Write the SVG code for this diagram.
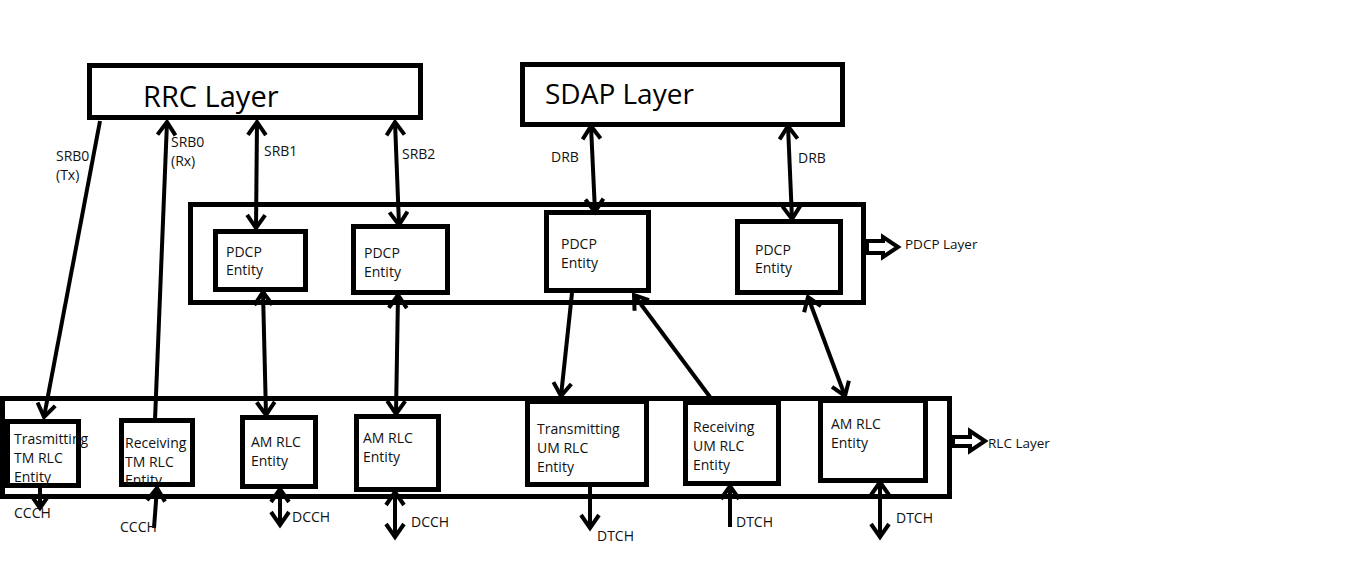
<svg xmlns="http://www.w3.org/2000/svg" width="1346" height="582" viewBox="0 0 1346 582">
<style>
.box{fill:none;stroke:#000;stroke-width:5}
.ent{fill:#fff;stroke:#000;stroke-width:5}
.t{font-family:"Open Sans","Noto Sans",sans-serif;font-size:14px;fill:#111}
.lb{font-family:"Open Sans","Noto Sans",sans-serif;font-size:13.5px;fill:#111}
.big{font-family:"Open Sans","Noto Sans",sans-serif;font-size:29px;fill:#000}
.c{fill:none;stroke:#000;stroke-width:4}
.blk{fill:#fff;stroke:#000;stroke-width:4;stroke-linejoin:miter}
</style>
<defs>
<marker id="a" markerUnits="userSpaceOnUse" orient="auto-start-reverse" viewBox="-18 -14 22 28" markerWidth="22" markerHeight="28" refX="0" refY="0">
<path d="M-13,-9 L0,0 L-13,9" fill="none" stroke="#000" stroke-width="4"/>
</marker>
<clipPath id="rxclip"><rect x="119" y="418" width="76" height="67"/></clipPath>
</defs>
<rect width="1346" height="582" fill="#fff"/>

<g id="rrc">
<rect class="box" x="89.5" y="65.5" width="331" height="52"/>
<text class="big" x="143" y="107">RRC Layer</text>
</g>
<g id="sdap">
<rect class="box" x="522.5" y="64.5" width="320" height="60"/>
<text class="big" x="545" y="104" style="font-size:28px">SDAP Layer</text>
</g>

<g id="pdcp-layer">
<rect class="box" x="190.5" y="204.5" width="673" height="98"/>
<polygon class="blk" points="867,241 883,241 883,237 898,247 883,257 883,253 867,253"/>
<text class="lb" x="905" y="249">PDCP Layer</text>
</g>
<g id="pdcp1">
<rect class="ent" x="215.5" y="231.5" width="90" height="58"/>
<text class="t" x="226" y="257">PDCP</text><text class="t" x="226" y="275">Entity</text>
</g>
<g id="pdcp2">
<rect class="ent" x="353.5" y="226.5" width="94" height="66"/>
<text class="t" x="364" y="258">PDCP</text><text class="t" x="364" y="277">Entity</text>
</g>
<g id="pdcp3">
<rect class="ent" x="546.5" y="212.5" width="102" height="78"/>
<text class="t" x="561" y="249">PDCP</text><text class="t" x="561" y="268">Entity</text>
</g>
<g id="pdcp4">
<rect class="ent" x="737.5" y="221.5" width="103" height="71"/>
<text class="t" x="755" y="255">PDCP</text><text class="t" x="755" y="273">Entity</text>
</g>

<g id="rlc-layer">
<rect class="box" x="2.5" y="398.5" width="947" height="98"/>
<polygon class="blk" points="953,437 970,437 970,431 985,441 970,451 970,446 953,446"/>
<text class="lb" x="988" y="448">RLC Layer</text>
</g>
<g id="tx-tm">
<rect class="ent" x="7.5" y="421.5" width="71" height="64"/>
<text class="t" x="14" y="444">Trasmitting</text><text class="t" x="14" y="463">TM RLC</text><text class="t" x="14" y="482">Entity</text>
</g>
<g id="rx-tm">
<rect class="ent" x="121.5" y="420.5" width="71" height="64"/>
<g clip-path="url(#rxclip)"><text class="t" x="125" y="448">Receiving</text><text class="t" x="125" y="467">TM RLC</text><text class="t" x="125" y="485">Entity</text></g>
</g>
<g id="am1">
<rect class="ent" x="242.5" y="417.5" width="73" height="69"/>
<text class="t" x="251" y="447">AM RLC</text><text class="t" x="251" y="466">Entity</text>
</g>
<g id="am2">
<rect class="ent" x="356.5" y="416.5" width="82" height="73"/>
<text class="t" x="363" y="443">AM RLC</text><text class="t" x="363" y="462">Entity</text>
</g>
<g id="tx-um">
<rect class="ent" x="527.5" y="401.5" width="119" height="83"/>
<text class="t" x="537" y="434">Transmitting</text><text class="t" x="537" y="453">UM RLC</text><text class="t" x="537" y="472">Entity</text>
</g>
<g id="rx-um">
<rect class="ent" x="685.5" y="402.5" width="93" height="81"/>
<text class="t" x="693" y="432">Receiving</text><text class="t" x="693" y="451">UM RLC</text><text class="t" x="693" y="470">Entity</text>
</g>
<g id="am3">
<rect class="ent" x="820.5" y="400.5" width="105" height="80"/>
<text class="t" x="831" y="429">AM RLC</text><text class="t" x="831" y="448">Entity</text>
</g>

<g id="connectors">
<line class="c" x1="100" y1="121" x2="44" y2="417" marker-end="url(#a)"/>
<line class="c" x1="155" y1="420" x2="167" y2="122" marker-end="url(#a)"/>
<line class="c" x1="257" y1="122" x2="256" y2="228" marker-start="url(#a)" marker-end="url(#a)"/>
<line class="c" x1="395" y1="122" x2="399" y2="225" marker-start="url(#a)" marker-end="url(#a)"/>
<line class="c" x1="591" y1="126" x2="595" y2="212" marker-start="url(#a)" marker-end="url(#a)"/>
<line class="c" x1="788" y1="126" x2="792" y2="219" marker-start="url(#a)" marker-end="url(#a)"/>
<line class="c" x1="263" y1="292" x2="266" y2="415" marker-start="url(#a)" marker-end="url(#a)"/>
<line class="c" x1="398" y1="295" x2="396" y2="414" marker-start="url(#a)" marker-end="url(#a)"/>
<line class="c" x1="572" y1="293" x2="561" y2="396" marker-end="url(#a)"/>
<line class="c" x1="710" y1="397" x2="634" y2="295" marker-end="url(#a)"/>
<line class="c" x1="808" y1="297" x2="845" y2="396" marker-start="url(#a)" marker-end="url(#a)"/>
<line class="c" x1="40" y1="488" x2="40" y2="508" marker-end="url(#a)"/>
<line class="c" x1="154" y1="528" x2="157" y2="488" marker-end="url(#a)"/>
<line class="c" x1="280" y1="489" x2="280" y2="525" marker-start="url(#a)" marker-end="url(#a)"/>
<line class="c" x1="395" y1="492" x2="395" y2="537" marker-start="url(#a)" marker-end="url(#a)"/>
<line class="c" x1="590" y1="486" x2="590" y2="528" marker-end="url(#a)"/>
<line class="c" x1="730" y1="527" x2="730" y2="486" marker-end="url(#a)"/>
<line class="c" x1="880" y1="482" x2="880" y2="537" marker-start="url(#a)" marker-end="url(#a)"/>
</g>

<g id="labels">
<text class="t" x="56" y="161">SRB0</text><text class="t" x="56" y="180">(Tx)</text>
<text class="t" x="171" y="147">SRB0</text><text class="t" x="171" y="166">(Rx)</text>
<text class="t" x="264" y="156">SRB1</text>
<text class="t" x="402" y="159">SRB2</text>
<text class="t" x="551" y="162">DRB</text>
<text class="t" x="798" y="163">DRB</text>
<text class="t" x="14" y="518">CCCH</text>
<text class="t" x="120" y="532">CCCH</text>
<text class="t" x="292" y="522">DCCH</text>
<text class="t" x="411" y="527">DCCH</text>
<text class="t" x="597" y="541">DTCH</text>
<text class="t" x="736" y="527">DTCH</text>
<text class="t" x="896" y="523">DTCH</text>
</g>
</svg>
